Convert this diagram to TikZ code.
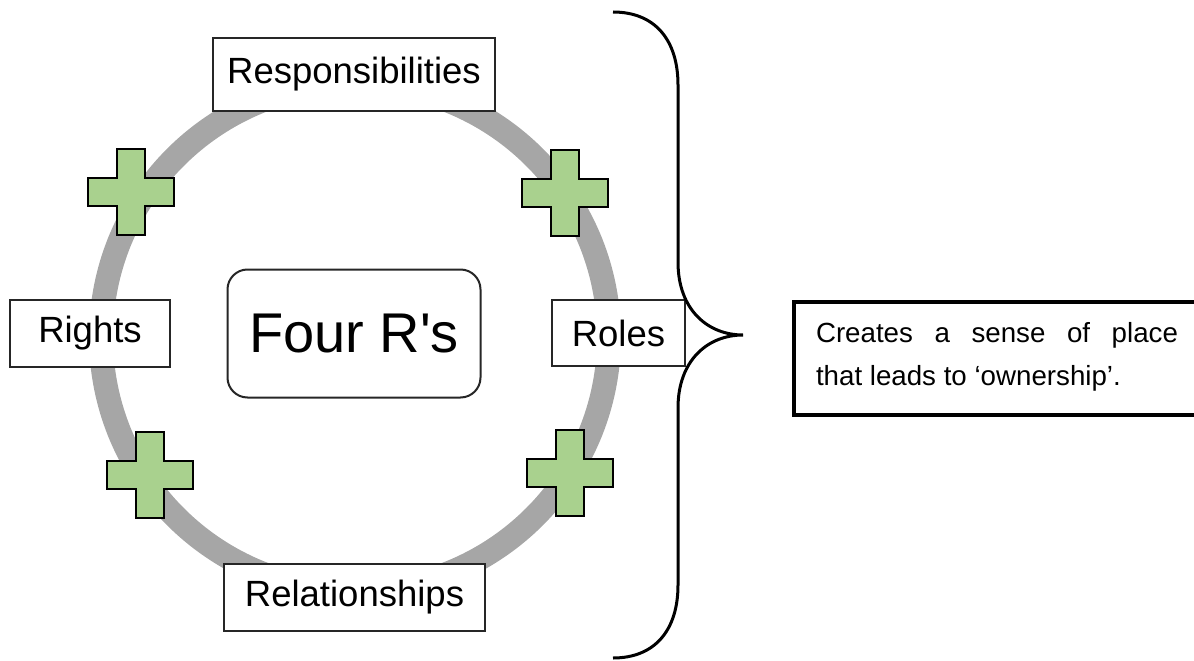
\documentclass[tikz,border=0pt]{standalone}
\usepackage{fontspec}
\setmainfont{Liberation Sans}
\usepackage{tikz}
\usetikzlibrary{calc}

\definecolor{ringgray}{RGB}{166,166,166}
\definecolor{plusgreen}{RGB}{169,209,142}

\tikzset{
  rbox/.style={draw=black!85, fill=white, line width=1.5pt, inner sep=0pt,
    font=\fontsize{36.5}{44}\selectfont},
  plussign/.style={draw=black, fill=plusgreen, line width=2.5pt, line join=miter},
}

\begin{document}
\begin{tikzpicture}[x=1pt,y=-1pt]
\useasboundingbox (0,0) rectangle (1194,661);

% Ring of the four R's
\draw[ringgray, line width=24pt] (355,337) circle (254);

% Plus signs on the ring
\foreach \cx/\cy in {131/192, 565/193, 150/475, 570/473}
  \draw[plussign] (\cx,\cy) ++(-14,-43) -- ++(28,0) -- ++(0,29) -- ++(29,0)
    -- ++(0,28) -- ++(-29,0) -- ++(0,29) -- ++(-28,0) -- ++(0,-29)
    -- ++(-29,0) -- ++(0,-28) -- ++(29,0) -- cycle;

% The four R's
\node[rbox, minimum width=282, minimum height=73] (resp) at (354,74.5) {Responsibilities};
\node[rbox, minimum width=160, minimum height=67] (rights) at (90,333.5) {Rights};
\node[rbox, minimum width=133, minimum height=66] (roles) at (618.5,333) {Roles};
\node[rbox, minimum width=261, minimum height=67] (rel) at (354.5,597.5) {Relationships};
\node[rbox, rounded corners=20pt, line width=2pt, minimum width=253, minimum height=128,
  font=\fontsize{56}{66}\selectfont] (four) at (354,333.5) {Four R\textquotesingle s};

% Brace
\draw[line width=3pt] (613,12) .. controls (655,12) and (678,40) .. (678,85)
  -- (678,262) .. controls (678,310) and (708,335) .. (743,335)
  .. controls (708,335) and (678,360) .. (678,408)
  -- (678,585) .. controls (678,630) and (655,658) .. (613,658);

% Outcome
\node[draw, line width=4pt, anchor=west, text width=362pt, inner xsep=22pt, inner ysep=0pt,
  minimum height=113, align=justify, font=\fontsize{27.7}{43}\selectfont] (place) at (792,358.5)
  {Creates a sense of place\linebreak that leads to ‘ownership’.\rule[-10pt]{0pt}{0pt}};
\end{tikzpicture}
\end{document}
